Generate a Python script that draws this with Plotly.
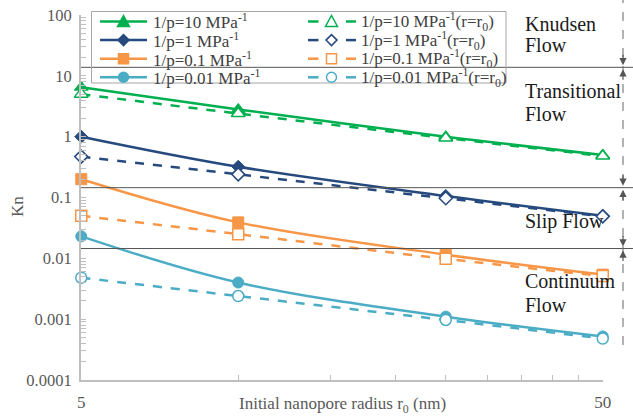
import plotly.graph_objects as go
import numpy as np

# ---------------- data ----------------
radius = [5, 10, 25, 50]
kn_p10 = [6.5, 2.8, 1.0, 0.5]
kn_p10_r0 = [5.0, 2.4, 0.95, 0.48]
kn_p1 = [1.0, 0.32, 0.106, 0.05]
kn_p1_r0 = [0.47, 0.24, 0.097, 0.049]
kn_p01 = [0.2, 0.039, 0.0115, 0.0054]
kn_p01_r0 = [0.05, 0.025, 0.0098, 0.0051]
kn_p001 = [0.023, 0.004, 0.0011, 0.00052]
kn_p001_r0 = [0.0048, 0.0024, 0.00097, 0.00048]

names = ["1/p=10 MPa<sup>-1</sup>", "1/p=1 MPa<sup>-1</sup>",
         "1/p=0.1 MPa<sup>-1</sup>", "1/p=0.01 MPa<sup>-1</sup>"]
names_r0 = [n + "(r=r<sub>0</sub>)" for n in names]

regime_bounds = [13.8, 0.145, 0.0145]
regime_lines = [("Knudsen", 26.7), ("Flow", 48.3), ("Transitional", 94.5), ("Flow", 116.7),
                ("Slip Flow", 224.3), ("Continuum", 284.0), ("Flow", 307.5)]

x_ticks = [5, 10, 15, 20, 25, 30, 35, 40, 45, 50]
x_ticktext = ["5", "", "", "", "", "", "", "", "", "50"]

# ---------------- style ----------------
colors = ["#00B050", "#264A7E", "#F79646", "#4BACC6"]
symbols = ["triangle-up", "diamond", "square", "circle"]
sizes = [12, 10, 11, 11]
FONT = "Liberation Serif"

solid = [kn_p10, kn_p1, kn_p01, kn_p001]
dashed = [kn_p10_r0, kn_p1_r0, kn_p01_r0, kn_p001_r0]

# plot-area pixel geometry
L, R, T, B = 81, 603, 15, 380
PW, PH = R - L, B - T
def px(x):
    return (x - L) / PW
def py(y):
    return (B - y) / PH

fig = go.Figure()
for i in range(4):
    fig.add_trace(go.Scatter(
        x=radius, y=solid[i], name=names[i], mode="lines+markers",
        line=dict(color=colors[i], width=2.5, shape="spline"),
        marker=dict(symbol=symbols[i], size=sizes[i], color=colors[i],
                    line=dict(color=colors[i], width=1)),
        cliponaxis=False, showlegend=False))
    fig.add_trace(go.Scatter(
        x=radius, y=dashed[i], name=names_r0[i], mode="lines+markers",
        line=dict(color=colors[i], width=2.5, dash="dash", shape="spline"),
        marker=dict(symbol=symbols[i], size=sizes[i], color="white",
                    line=dict(color=colors[i], width=1.5)),
        cliponaxis=False, showlegend=False))

yt, ytt = [], []
for e in range(-4, 3):
    for m in range(1, 10):
        v = m * 10.0 ** e
        if v > 100.5:
            break
        yt.append(v)
        ytt.append((("%g" % v) if v < 1 else str(int(round(v)))) if m == 1 else "")

shapes = []
ann = []

# regime boundary lines and dashed arrow guide
for b in regime_bounds:
    shapes.append(dict(type="line", xref="paper", yref="y", x0=0, x1=px(633),
                       y0=b, y1=b, line=dict(color="#555555", width=1)))
shapes.append(dict(type="line", xref="paper", yref="paper", x0=px(623), x1=px(623),
                   y0=py(345), y1=py(0), line=dict(color="#666666", width=1, dash="dash")))
for b in regime_bounds:
    for tail in (-14, 14):
        ann.append(dict(x=px(623), y=np.log10(b), xref="paper", yref="y", text="",
                        showarrow=True, ax=0, ay=tail, arrowhead=2, arrowsize=1.2,
                        arrowwidth=1.2, arrowcolor="#555555", standoff=2))
for txt, yy in regime_lines:
    ann.append(dict(text=txt, xref="paper", yref="paper", x=px(523), y=py(yy - 3),
                    xanchor="left", yanchor="middle", showarrow=False,
                    font=dict(family=FONT, size=20, color="#1a1a1a")))

# axis titles
ann.append(dict(text="Initial nanopore radius r<sub>0</sub> (nm)", xref="paper", yref="paper",
                x=0.5, y=py(405), xanchor="center", yanchor="middle", showarrow=False,
                font=dict(family=FONT, size=17, color="#595959")))
ann.append(dict(text="Kn", xref="paper", yref="paper", x=px(17), y=py(207), textangle=-90,
                xanchor="center", yanchor="middle", showarrow=False,
                font=dict(family=FONT, size=17, color="#595959")))

# legend (drawn as layout items)
shapes.append(dict(type="rect", xref="paper", yref="paper", x0=px(91.5), x1=px(506),
                   y0=py(83), y1=py(11.5), line=dict(color="#A6A6A6", width=1)))
row_y = [21.5 + 18.6 * k for k in range(4)]

def marker_shape(kind, xa, ya, fill, col):
    base = dict(xref="paper", yref="paper", xsizemode="pixel", ysizemode="pixel",
                xanchor=xa, yanchor=ya, fillcolor=fill, line=dict(color=col, width=1.5))
    if kind == "triangle-up":
        base.update(type="path", path="M -6 -5 L 6 -5 L 0 6 Z")
    elif kind == "diamond":
        base.update(type="path", path="M 0 -5.5 L 5.5 0 L 0 5.5 L -5.5 0 Z")
    elif kind == "square":
        base.update(type="rect", x0=-5, x1=5, y0=-5, y1=5)
    else:
        base.update(type="circle", x0=-5, x1=5, y0=-5, y1=5)
    return base

for i in range(4):
    yy = py(row_y[i])
    shapes.append(dict(type="line", xref="paper", yref="paper", x0=px(100), x1=px(147),
                       y0=yy, y1=yy, line=dict(color=colors[i], width=2.5)))
    shapes.append(marker_shape(symbols[i], px(123.5), yy, colors[i], colors[i]))
    for a, b2 in ((308, 318.5), (346, 356)):
        shapes.append(dict(type="line", xref="paper", yref="paper", x0=px(a), x1=px(b2),
                           y0=yy, y1=yy, line=dict(color=colors[i], width=2.5)))
    shapes.append(marker_shape(symbols[i], px(331.5), yy, "white", colors[i]))
    ann.append(dict(text=names[i], xref="paper", yref="paper", x=px(150.5), y=yy,
                    xanchor="left", yanchor="middle", showarrow=False,
                    font=dict(family=FONT, size=17, color="#404040")))
    ann.append(dict(text=names_r0[i], xref="paper", yref="paper", x=px(359), y=yy,
                    xanchor="left", yanchor="middle", showarrow=False,
                    font=dict(family=FONT, size=17, color="#404040")))

fig.update_layout(
    width=633, height=419,
    margin=dict(l=L, r=633 - R, t=T, b=419 - B),
    paper_bgcolor="white", plot_bgcolor="white",
    font=dict(family=FONT, size=17, color="#595959"),
    shapes=shapes, annotations=ann, showlegend=False,
    xaxis=dict(type="log", range=[np.log10(5) - 0.0005, np.log10(50) + 0.0005],
               tickvals=x_ticks, ticktext=x_ticktext, ticks="inside", ticklen=5,
               tickcolor="#BFBFBF", showline=True, linecolor="#BFBFBF", linewidth=2,
               showgrid=False, zeroline=False, automargin=False, ticklabelstandoff=6,
               tickfont=dict(family=FONT, size=17, color="#595959")),
    yaxis=dict(type="log", range=[-4, 2], tickvals=yt, ticktext=ytt, ticks="inside",
               ticklen=5, tickcolor="#BFBFBF", showline=True, linecolor="#BFBFBF",
               linewidth=2, showgrid=False, zeroline=False, automargin=False,
               ticklabelstandoff=4,
               tickfont=dict(family=FONT, size=16.5, color="#595959")),
)
fig.write_html("out.html")
